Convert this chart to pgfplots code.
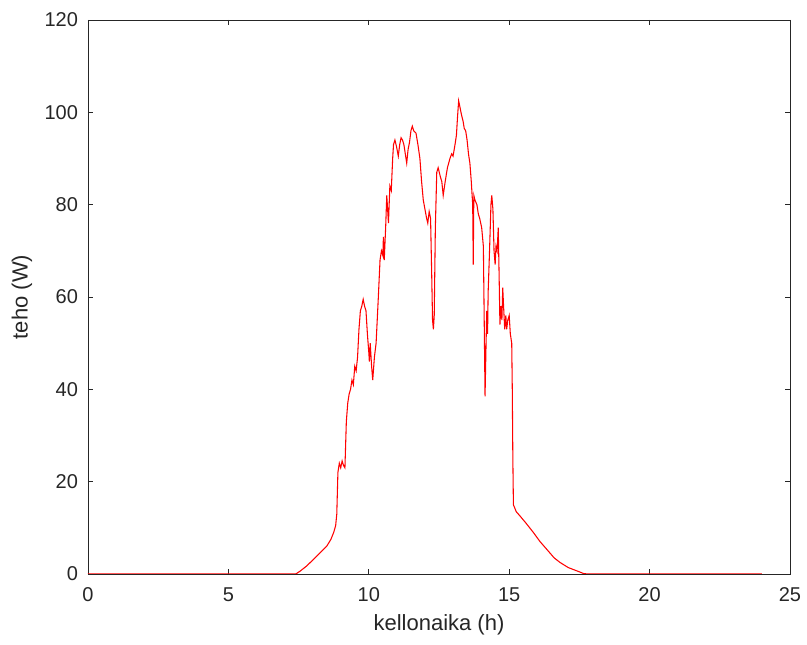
\documentclass[border=0pt]{standalone}
\usepackage{pgfplots}
\pgfplotsset{compat=1.18}
\usepackage{fontspec}
\setmainfont{Liberation Sans}
\definecolor{axgray}{rgb}{0.15,0.15,0.15}
\begin{document}
\begin{tikzpicture}
\begin{axis}[
    scale only axis,
    width=526.5pt,height=415.5pt,
    xmin=0,xmax=25,ymin=0,ymax=120,
    xtick={0,5,...,25},ytick={0,20,...,120},
    tick align=inside,
    major tick length=3.75pt,
    axis line style={axgray,line width=0.6pt},
    every tick/.style={axgray,line width=0.6pt},
    tick label style={font=\fontsize{15}{17}\selectfont,text=axgray},
    xticklabel style={yshift=-6.5pt},
    yticklabel style={xshift=-4pt},
    /pgf/number format/assume math mode=true,
    xlabel={kellonaika (h)},ylabel={teho (W)},
    label style={font=\fontsize{16.5}{19}\selectfont,text=axgray},
    xlabel style={at={(axis description cs:0.5,-0.092)},anchor=center},
    ylabel style={at={(axis description cs:-0.094,0.5)},anchor=center},
]
\addplot[red,line width=0.8pt] coordinates {
(0,0)(7.4,0)(7.55,0.6)(7.8,1.8)(8.0,3.0)(8.25,4.5)(8.5,6.0)(8.65,7.5)(8.75,9.0)(8.82,10.5)
(8.86,13)(8.9,22)(8.95,24)(9.0,23)(9.05,24.5)(9.1,23.5)(9.15,23)(9.2,33)(9.25,37)
(9.3,39)(9.35,40)(9.4,42)(9.45,41)(9.5,45)(9.55,44)(9.6,47)(9.65,53)(9.7,57)
(9.75,58)(9.8,59.5)(9.85,58)(9.9,57)(9.95,52)(10.0,48)(10.02,46)(10.05,50)
(10.1,45)(10.14,42)(10.2,47)(10.26,50)(10.3,55)(10.34,60)(10.4,68)(10.45,70)
(10.5,69)(10.52,73)(10.55,68)(10.6,75)(10.64,82)(10.68,78)(10.7,76)(10.75,84)
(10.8,83)(10.85,90)(10.88,93)(10.93,94)(10.99,92.5)(11.05,90.5)(11.1,93)
(11.15,94.5)(11.2,94)(11.25,93)(11.3,91)(11.35,89)(11.4,92)(11.45,93.5)(11.5,96)
(11.55,97)(11.6,96)(11.68,95.5)(11.75,93)(11.82,90)(11.88,85)(11.94,81)(12.0,79)
(12.06,77)(12.1,76)(12.15,78.5)(12.2,77)(12.24,65)(12.27,55)(12.3,53)(12.33,56)
(12.37,75)(12.42,87)(12.47,88)(12.55,86)(12.6,85)(12.65,82)(12.72,85)(12.8,88)
(12.89,90)(12.95,91)(13.0,90.5)(13.07,93)(13.12,95)(13.16,99)(13.2,102.5)
(13.25,101)(13.3,99.5)(13.36,98)(13.4,96.5)(13.45,96)(13.5,94)(13.55,91)(13.6,89)
(13.65,85)(13.7,80)(13.72,67)(13.74,82)(13.78,81)(13.85,80)(13.9,78)(13.95,77)
(14.02,75)(14.08,71)(14.11,55)(14.14,38.5)(14.17,48)(14.2,57)(14.23,52)(14.25,61)
(14.3,70)(14.35,80)(14.38,82)(14.42,79)(14.46,70)(14.5,67)(14.53,71)(14.57,70)
(14.61,75)(14.64,65)(14.67,54)(14.7,58)(14.74,55)(14.77,62)(14.8,58)(14.84,53)
(14.88,56)(14.91,53)(14.95,55)(15.0,56)(15.04,52)(15.09,50)(15.11,40)(15.13,25)
(15.15,15)(15.25,13.5)(15.38,12.6)(15.6,11)(15.86,9)(16.1,7)(16.33,5.4)(16.6,3.5)
(16.81,2.5)(17.1,1.4)(17.4,0.7)(17.65,0.1)(17.8,0)(24,0)
};
\end{axis}
\path (current axis.south west) ++(-66pt,-53.25pt) coordinate (bbA);
\path (current axis.north east) ++(12.75pt,15pt) coordinate (bbB);
\pgfresetboundingbox
\path (bbA) rectangle (bbB);
\end{tikzpicture}
\end{document}
